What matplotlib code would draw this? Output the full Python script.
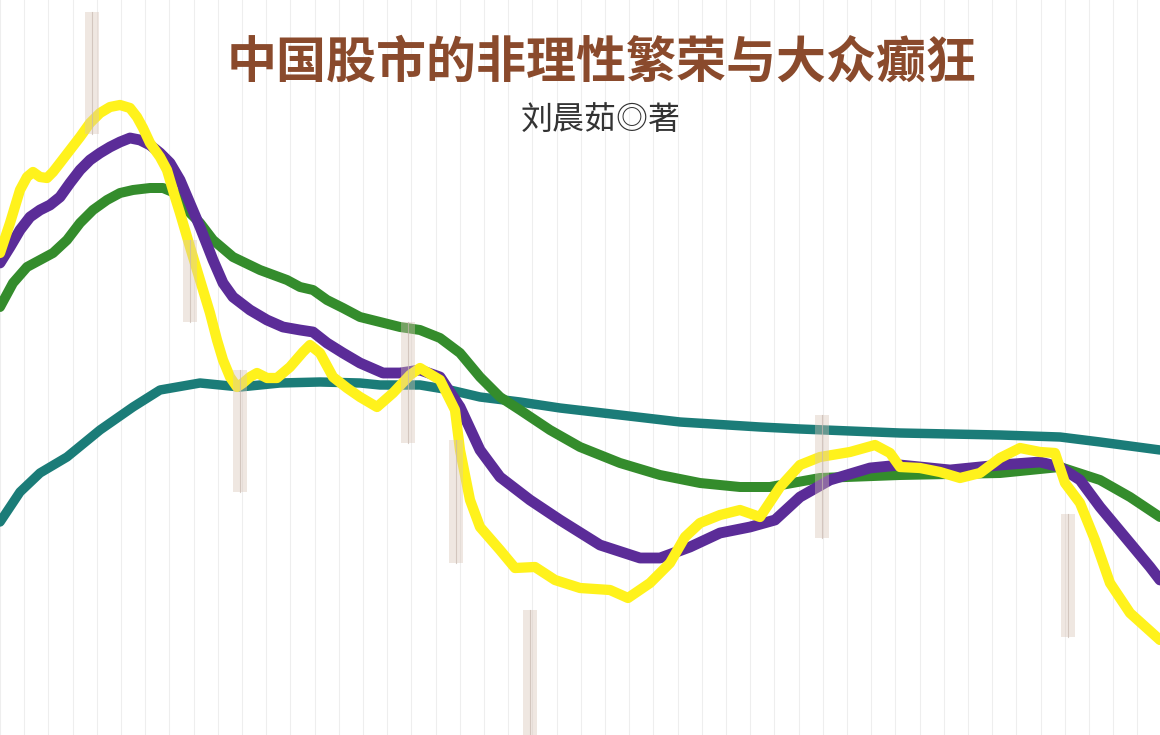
import numpy as np
import matplotlib.pyplot as plt
from matplotlib.patches import Rectangle

plt.rcParams['font.family'] = ['Noto Sans CJK SC', 'DejaVu Sans']

W, H = 1160, 735

teal_x = [0, 20, 40, 67, 100, 133, 160, 200, 240, 280, 320, 360, 380, 420, 450,
          480, 520, 560, 620, 680, 760, 800, 850, 900, 950, 1000, 1060, 1100, 1160]
teal_y = [522, 492, 473, 457, 430, 407, 390, 383, 387, 383, 382, 383, 385, 385, 390,
          397, 402, 408, 415, 422, 427, 429, 431, 433, 434, 435, 437, 442, 450]

green_x = [0, 13, 27, 40, 53, 67, 80, 93, 107, 120, 133, 150, 163, 175, 180, 200,
           213, 233, 260, 287, 300, 313, 327, 343, 360, 380, 400, 420, 440, 460,
           480, 500, 520, 550, 580, 620, 660, 700, 740, 770, 820, 900, 1000, 1060,
           1100, 1130, 1160]
green_y = [307, 283, 267, 260, 253, 240, 223, 210, 200, 193, 190, 188, 188, 193, 203,
           223, 240, 257, 270, 280, 287, 290, 300, 308, 317, 322, 327, 330, 338, 353,
           377, 397, 410, 430, 447, 463, 475, 483, 487, 487, 478, 475, 473, 467,
           480, 497, 517]

purple_x = [0, 10, 20, 30, 40, 50, 60, 70, 80, 90, 100, 110, 120, 130, 140, 150, 160,
            170, 180, 200, 213, 223, 233, 250, 267, 283, 300, 313, 327, 343, 360,
            383, 400, 420, 440, 460, 480, 500, 530, 560, 600, 640, 660, 690, 720,
            750, 775, 800, 830, 870, 900, 950, 1000, 1040, 1060, 1080, 1100, 1130,
            1150, 1160]
purple_y = [263, 247, 230, 217, 210, 205, 197, 183, 170, 160, 153, 147, 142, 138, 140,
            145, 153, 163, 180, 227, 260, 283, 297, 310, 320, 327, 330, 332, 343, 353,
            363, 373, 373, 370, 377, 407, 450, 477, 500, 520, 545, 558, 558, 547,
            533, 527, 520, 497, 480, 468, 465, 470, 465, 462, 467, 480, 507, 543,
            567, 580]

yellow_x = [0, 10, 20, 27, 33, 40, 47, 53, 60, 70, 80, 90, 100, 110, 120, 130, 137,
            143, 150, 160, 167, 175, 180, 190, 200, 210, 217, 223, 230, 237, 243, 250,
            257, 267, 277, 290, 303, 310, 320, 333, 347, 360, 377, 393, 410, 420,
            440, 455, 460, 470, 480, 500, 515, 535, 555, 580, 610, 628, 650, 670,
            685, 700, 720, 740, 760, 780, 800, 820, 850, 875, 890, 900, 920, 940,
            960, 980, 1000, 1020, 1040, 1055, 1065, 1080, 1095, 1110, 1130, 1160]
yellow_y = [253, 223, 190, 177, 172, 177, 178, 172, 163, 150, 137, 123, 113, 107, 105,
            108, 117, 128, 143, 157, 170, 197, 213, 247, 280, 313, 340, 360, 377,
            387, 383, 377, 373, 378, 378, 367, 352, 345, 353, 377, 388, 397, 407,
            393, 375, 368, 380, 410, 450, 500, 527, 550, 568, 567, 580, 588, 590,
            598, 583, 563, 537, 523, 515, 510, 517, 487, 465, 457, 452, 445, 453,
            467, 468, 472, 478, 473, 458, 448, 452, 453, 483, 503, 540, 583, 613, 640]

# faint candles: day, high, low
candle_x = [92, 190, 240, 408, 456, 530, 822, 1068]
candle_hi = [12, 240, 370, 322, 440, 610, 415, 514]
candle_lo = [134, 322, 492, 443, 563, 740, 538, 637]


def lvl(v):
    return H - np.asarray(v, dtype=float)


fig = plt.figure(figsize=(11.6, 7.35), dpi=100)
fig.patch.set_facecolor('white')
ax = fig.add_axes([0, 0, 1, 1])
ax.set_xlim(0, W)
ax.set_ylim(0, H)
ax.axis('off')

# paper grid
for gx in np.arange(0, W + 1, 24.2):
    ax.axvline(gx, color='#eeeeee', lw=0.8, zorder=0)

style = dict(solid_capstyle='round', solid_joinstyle='round')
ax.plot(teal_x, lvl(teal_y), color='#1b7c78', lw=6.8, zorder=2, **style)
ax.plot(green_x, lvl(green_y), color='#348c2c', lw=7.2, zorder=3, **style)
ax.plot(purple_x, lvl(purple_y), color='#5b2c98', lw=7.8, zorder=4, **style)
ax.plot(yellow_x, lvl(yellow_y), color='#fff21c', lw=7.4, zorder=5, **style)

for cx, hi, lo in zip(candle_x, candle_hi, candle_lo):
    ax.add_patch(Rectangle((cx - 7, lvl(lo)), 14, lo - hi, facecolor='#d9c4b6',
                           edgecolor='none', alpha=0.4, zorder=6))
    ax.plot([cx, cx], [lvl(lo), lvl(hi)], color='#c8b8b0', lw=0.8, alpha=0.7, zorder=6)

fig.text(0.519, 1 - 63 / H, '中国股市的非理性繁荣与大众癫狂', ha='center', va='center',
         fontsize=36, fontweight='bold', color='#8a4a2c')
fig.text(0.518, 1 - 120 / H, '刘晨茹◎著', ha='center', va='center',
         fontsize=23, color='#333333')

plt.savefig('out.png', dpi=100)
